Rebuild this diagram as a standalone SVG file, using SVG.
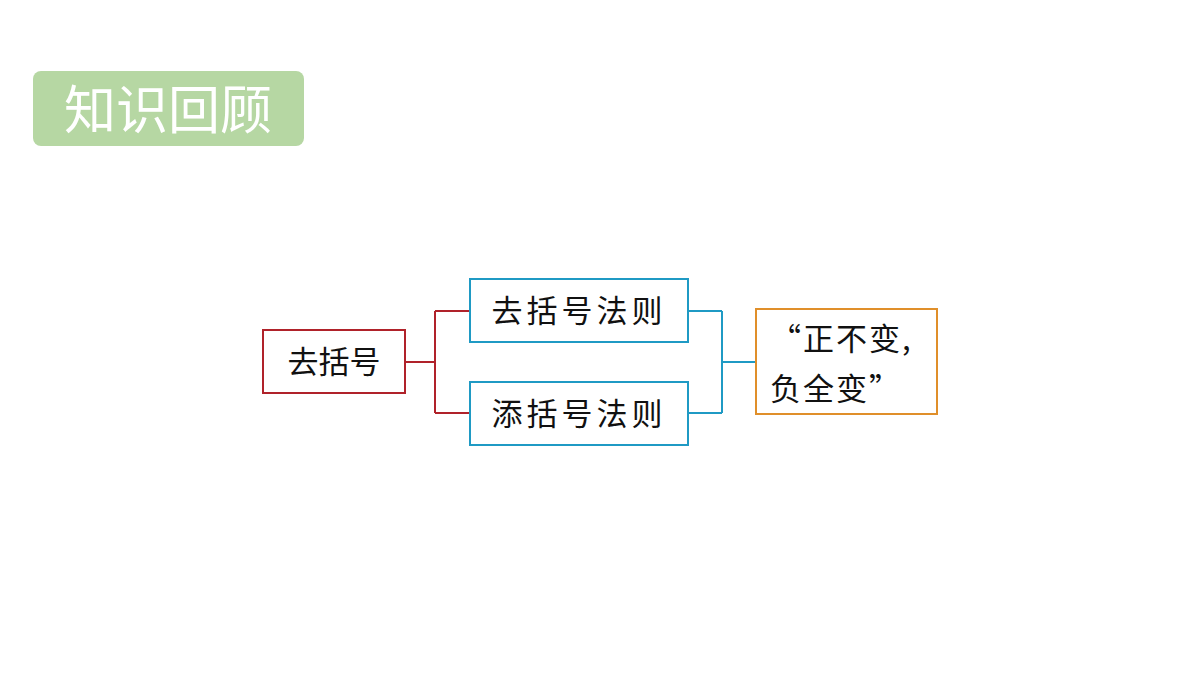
<svg xmlns="http://www.w3.org/2000/svg" width="1200" height="675" viewBox="0 0 1200 675">
<style>
text{font-family:"Noto Sans CJK SC","Noto Sans",sans-serif;fill:#111}
.b{fill:#fff;stroke-width:2}
.t{font-size:31px;text-anchor:middle}
</style>
<rect width="1200" height="675" fill="#fff"/>
<g id="title"><rect x="33" y="71" width="271" height="75" rx="8" fill="#b6d7a3"/>
<text x="168" y="129" font-size="52" text-anchor="middle" style="fill:#fff">知识回顾</text></g>
<g id="connectors" fill="none" stroke-width="2">
<path d="M405 362H435M435 311V413M435 311H470M435 413H470" stroke="#b0222a"/>
<path d="M688 311H722M688 413H722M722 311V413M722 362H756" stroke="#1f9ac4"/>
</g>
<g id="n1"><rect class="b" x="263" y="330" width="142" height="63" stroke="#b0222a"/><text class="t" x="334" y="373">去括号</text></g>
<g id="n2"><rect class="b" x="470" y="279" width="218" height="63" stroke="#1f9ac4"/><text class="t" x="579" y="322" letter-spacing="4">去括号法则</text></g>
<g id="n3"><rect class="b" x="470" y="382" width="218" height="63" stroke="#1f9ac4"/><text class="t" x="579" y="425" letter-spacing="4">添括号法则</text></g>
<g id="n4"><rect class="b" x="756" y="309" width="181" height="105" stroke="#e08f2a"/>
<text x="770" y="350" font-size="31" letter-spacing="2">“正不变,</text>
<text x="770" y="400" font-size="31" letter-spacing="2">负全变”</text></g>
</svg>
